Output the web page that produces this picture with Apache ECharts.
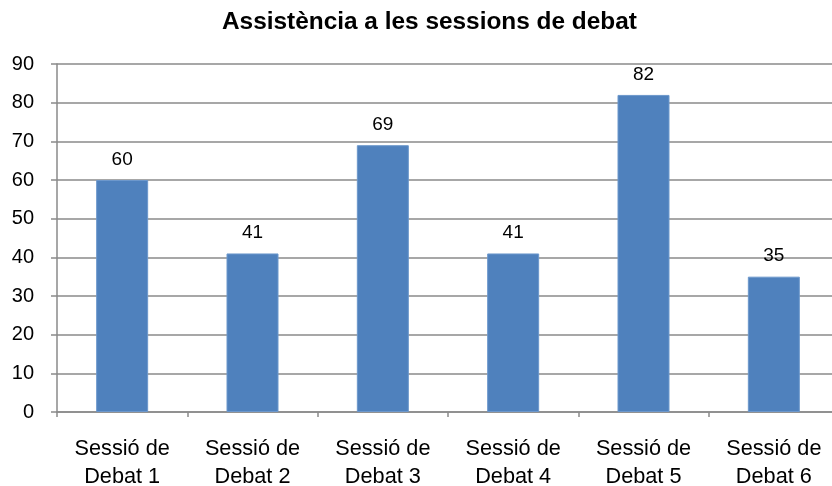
<!DOCTYPE html>
<html>
<head>
<meta charset="utf-8">
<script src="https://cdn.jsdelivr.net/npm/echarts@6/dist/echarts.min.js"></script>
<style>
  html, body { margin: 0; padding: 0; background: #fff; }
  #chart { width: 832px; height: 486px; }
</style>
</head>
<body>
<div id="chart"></div>
<script>
// dades
const categories = ['Sessió de\nDebat 1', 'Sessió de\nDebat 2', 'Sessió de\nDebat 3',
  'Sessió de\nDebat 4', 'Sessió de\nDebat 5', 'Sessió de\nDebat 6']
const assistencia = [60, 41, 69, 41, 82, 35]
const yTicks = [0, 10, 20, 30, 40, 50, 60, 70, 80, 90]

const chart = echarts.init(document.getElementById('chart'))

const option = {
  animation: false,
  title: {
    text: 'Assistència a les sessions de debat',
    left: 217,
    top: 5,
    textStyle: {
      fontFamily: 'Liberation Sans',
      fontSize: 24.4,
      fontWeight: 'bold',
      color: '#000'
    }
  },
  grid: {
    left: 57,
    top: 64,
    width: 782,
    height: 348,
    containLabel: false,
    outerBoundsMode: 'none'
  },
  xAxis: {
    type: 'category',
    data: categories,
    axisLine: { lineStyle: { color: '#8a8a8a', width: 1.5 } },
    axisTick: { show: true, length: 5, lineStyle: { color: '#8a8a8a', width: 1.5 } },
    axisLabel: {
      margin: 23,
      fontFamily: 'Liberation Sans',
      fontSize: 21.7,
      lineHeight: 28,
      color: '#000'
    }
  },
  yAxis: {
    type: 'value',
    min: yTicks[0],
    max: yTicks[yTicks.length - 1],
    interval: 10,
    axisLine: { show: true, lineStyle: { color: '#8a8a8a', width: 1.5 } },
    axisTick: { show: true, length: 6, lineStyle: { color: '#8a8a8a', width: 1.5 } },
    splitLine: { lineStyle: { color: '#8a8a8a', width: 1.5 } },
    axisLabel: {
      margin: 23,
      fontFamily: 'Liberation Sans',
      fontSize: 20,
      color: '#000'
    }
  },
  series: [
    {
      type: 'bar',
      data: assistencia,
      barWidth: 52,
      itemStyle: {
        color: '#4f81bd',
        borderColor: '#6d98cc',
        borderWidth: 1
      },
      label: {
        show: true,
        position: 'top',
        distance: 11,
        fontFamily: 'Liberation Sans',
        fontSize: 19,
        color: '#000'
      }
    }
  ]
}

chart.setOption(option)
</script>
</body>
</html>
